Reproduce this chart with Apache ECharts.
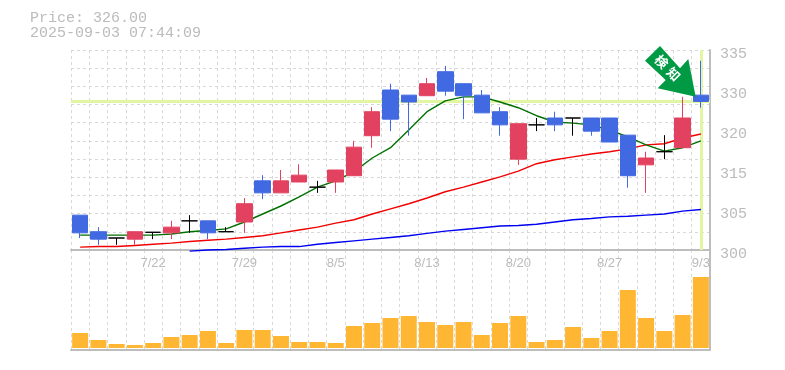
<!DOCTYPE html>
<html>
<head>
<meta charset="utf-8">
<style>html,body{margin:0;padding:0;background:#fff}#c{width:785px;height:370px}</style>
<script src="https://cdn.jsdelivr.net/npm/echarts@6/dist/echarts.min.js"></script>
</head>
<body>
<div id="c"></div>
<script>
const dates = ['7/15','7/16','7/17','7/18','7/22','7/23','7/24','7/25','7/28','7/29','7/30','7/31','8/1','8/4','8/5','8/6','8/7','8/8','8/12','8/13','8/14','8/15','8/18','8/19','8/20','8/21','8/22','8/25','8/26','8/27','8/28','8/29','9/1','9/2','9/3'];
const shownDates = ['7/22','7/29','8/5','8/13','8/20','8/27','9/3'];
// [open, close, low, high]
const candles = [
[306.1,303.0,302.1,306.1],[303.2,301.9,300.9,304.0],[302.1,302.1,300.9,302.1],[301.9,303.2,300.9,303.2],
[303.1,303.1,301.9,303.1],[303.0,304.0,301.9,305.1],[305.1,305.1,303.0,306.1],[305.1,303.0,301.9,305.1],
[303.2,303.2,303.2,304.0],[304.9,308.1,303.0,309.1],[312.1,310.0,308.9,313.1],[310.0,312.1,310.0,314.0],
[311.9,313.1,311.9,315.0],[311.0,311.0,310.0,312.1],[311.9,314.0,310.0,314.0],[313.0,318.0,313.0,319.1],
[320.0,324.2,317.9,325.0],[328.0,322.9,320.8,329.1],[327.1,325.9,320.0,327.1],[327.0,329.1,327.0,330.1],
[331.2,327.8,327.0,332.2],[329.1,327.0,322.9,329.1],[327.1,324.0,324.0,328.0],[324.2,321.9,320.0,325.0],
[315.9,322.1,314.9,322.1],[321.9,321.9,320.8,323.1],[323.1,321.9,320.8,324.2],[323.1,323.1,320.0,323.1],
[323.1,320.8,320.0,323.1],[323.1,318.9,318.9,323.1],[320.1,313.0,310.9,320.1],[314.9,316.1,310.0,317.2],
[317.2,317.2,315.9,320.1],[317.9,323.1,317.9,326.8],[327.1,326.0,324.9,333.1]];
const maShort = [302.6,302.6,302.6,302.6,302.6,302.8,303.2,303.4,303.7,304.9,306.3,307.7,309.3,311.0,312.1,313.7,316.1,317.9,321.0,324.2,326.1,326.8,326.8,325.9,324.9,323.5,322.4,322.2,321.9,321.0,319.8,318.4,317.3,317.9,319.1];
const maMid = [300.5,300.6,300.6,300.8,301.0,301.2,301.5,301.7,301.9,302.2,302.5,303.0,303.5,304.0,304.7,305.3,306.3,307.2,308.1,309.1,310.2,311.0,311.9,312.8,313.8,315.1,315.8,316.3,316.8,317.2,317.7,318.4,318.6,319.6,320.3];
const maLong = [null,null,null,null,null,null,299.8,300.0,300.1,300.3,300.5,300.6,300.6,301.0,301.3,301.6,301.9,302.2,302.5,302.9,303.3,303.6,303.9,304.2,304.3,304.5,304.9,305.3,305.5,305.8,305.9,306.1,306.3,306.8,307.1];
const volume = [15,8,4,3,5,11,13,17,5,18,18,12,6,6,5,22,25,30,32,26,23,26,13,25,32,6,8,21,10,17,58,30,17,33,71];
const yTickValues = [300,307,314,321,328,335];
const yTickLabels = ['300','305','315','320','330','335'];
const currentPrice = 326;
const priceLine = 'Price: 326.00';
const timeLine = '2025-09-03 07:44:09';

const GRAY='#bdbdbd', DASH='#d8d8d8', HILITE='#e2f5a2', MONO='"Liberation Mono", monospace';
const splitV={show:true,interval:0,lineStyle:{color:DASH,type:[3,3],width:1}};
const chart=echarts.init(document.getElementById('c'),null,{renderer:'canvas'});
chart.setOption({
  animation:false,
  backgroundColor:'#fff',
  title:{text:priceLine+'\n'+timeLine,left:30,top:11,padding:0,textStyle:{fontFamily:MONO,fontSize:15,fontWeight:'normal',color:'#bbb',lineHeight:15}},
  grid:[{left:71,top:50,width:639,height:200},{left:71,top:250,width:639,height:100}],
  xAxis:[
    {type:'category',gridIndex:0,data:dates,boundaryGap:true,
     axisLine:{onZero:false,lineStyle:{color:GRAY,width:2}},axisTick:{show:false},splitLine:splitV,
     axisLabel:{interval:(i,v)=>shownDates.includes(v),hideOverlap:false,margin:7,color:'#bbb',fontFamily:'"Liberation Sans", sans-serif',fontSize:13}},
    {type:'category',gridIndex:1,data:dates,boundaryGap:true,
     axisLine:{onZero:false,lineStyle:{color:GRAY,width:2}},axisTick:{show:false},splitLine:splitV,axisLabel:{show:false}}
  ],
  yAxis:[
    {type:'value',gridIndex:0,position:'right',min:300,max:335,
     axisLine:{show:true,lineStyle:{color:GRAY,width:2}},axisTick:{show:false},splitLine:{show:false},
     axisLabel:{customValues:yTickValues,margin:10,color:'#bbb',fontFamily:MONO,fontSize:15,verticalAlign:'top',lineHeight:8,
       formatter:v=>yTickLabels[yTickValues.indexOf(v)]}},
    {type:'value',gridIndex:0,position:'left',min:0,max:11,interval:1,
     axisLine:{show:false},axisTick:{show:false},axisLabel:{show:false},
     splitLine:{show:true,lineStyle:{color:DASH,type:[3,3],width:1}}},
    {type:'value',gridIndex:1,position:'right',min:-2,max:98,
     axisLine:{show:true,lineStyle:{color:GRAY,width:2}},axisTick:{show:false},axisLabel:{show:false},splitLine:{show:false}}
  ],
  series:[
    {type:'line',name:'hilite',xAxisIndex:0,yAxisIndex:0,data:[],z:1,silent:true,
     markLine:{silent:true,symbol:'none',z:1,label:{show:false},animation:false,
       data:[{yAxis:currentPrice,lineStyle:{color:HILITE,width:3,type:'solid'}},
             {xAxis:dates[dates.length-1],lineStyle:{color:HILITE,width:3,type:'solid'}}]}},
    {type:'line',xAxisIndex:0,yAxisIndex:0,data:maLong,showSymbol:false,clip:false,z:2,lineStyle:{color:'#0000f0',width:1.4}},
    {type:'line',xAxisIndex:0,yAxisIndex:0,data:maMid,showSymbol:false,clip:false,z:2,lineStyle:{color:'#f00000',width:1.4}},
    {type:'line',xAxisIndex:0,yAxisIndex:0,data:maShort,showSymbol:false,clip:false,z:2,lineStyle:{color:'#007000',width:1.4}},
    {type:'candlestick',xAxisIndex:0,yAxisIndex:0,data:candles,barWidth:16,z:3,clip:false,
     itemStyle:{color:'#e2425f',color0:'#4169e1',borderColor:'#e2425f',borderColor0:'#4169e1',borderColorDoji:'#000',borderWidth:1}},
    {type:'bar',xAxisIndex:1,yAxisIndex:2,data:volume,barWidth:16,z:3,itemStyle:{color:'#ffb733'}}
  ],
  graphic:[
    {type:'polygon',z:100,shape:{points:[[660,46],[645,60.7],[665.7,80],[657.7,88.3],[695.7,96.7],[688.3,59],[680,68.3]]},style:{fill:'#009a44'}},
    {type:'text',z:101,x:661.5,y:61.5,rotation:-Math.PI/4,style:{text:'検',fill:'#fff',font:'bold 13px "Noto Sans CJK JP"',align:'center',verticalAlign:'middle'}},
    {type:'text',z:101,x:673.5,y:74,rotation:-Math.PI/4,style:{text:'知',fill:'#fff',font:'bold 13px "Noto Sans CJK JP"',align:'center',verticalAlign:'middle'}}
  ]
});
</script>
</body>
</html>
